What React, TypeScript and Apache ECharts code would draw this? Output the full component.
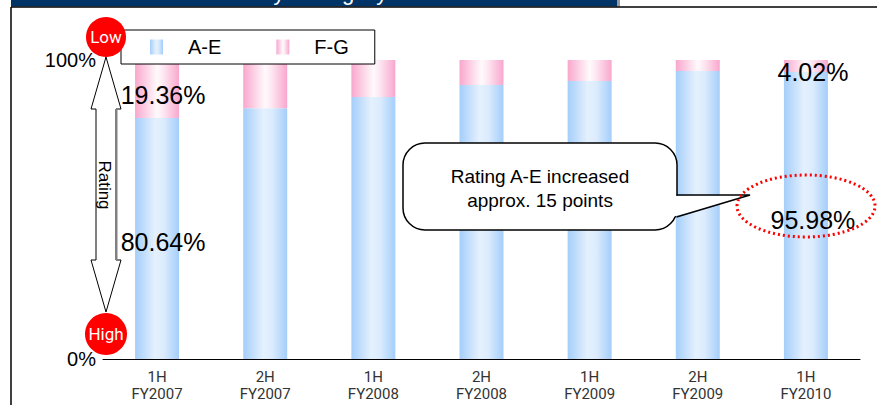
import React, { useEffect, useRef } from "react";
import * as echarts from "echarts";

// Half-year periods on the category axis
const categories = [
  "1H\nFY2007",
  "2H\nFY2007",
  "1H\nFY2008",
  "2H\nFY2008",
  "1H\nFY2009",
  "2H\nFY2009",
  "1H\nFY2010",
];

// Share of borrowers by rating band (%)
const ratingAE = [80.64, 83.9, 87.6, 91.6, 93.0, 96.3, 95.98];
const ratingFG = [19.36, 16.1, 12.4, 8.4, 7.0, 3.7, 4.02];

// Periods whose values are printed on the bars
const labelledPeriods = [0, 6];

const yMin = 0;
const yMax = 100;

const SANS = "'Liberation Sans', Arial, Helvetica, sans-serif";
const NARROW = "'Liberation Sans Narrow', 'Arial Narrow', Roboto, sans-serif";

const blueFill = new echarts.graphic.LinearGradient(0, 0, 1, 0, [
  { offset: 0, color: "#a4cefa" },
  { offset: 0.45, color: "#e4f0fd" },
  { offset: 0.65, color: "#dcecfd" },
  { offset: 1, color: "#a4cefa" },
]);
const pinkFill = new echarts.graphic.LinearGradient(0, 0, 1, 0, [
  { offset: 0, color: "#f9a7cd" },
  { offset: 0.5, color: "#fffafc" },
  { offset: 0.65, color: "#fde6f1" },
  { offset: 1, color: "#f9a7cd" },
]);

const valueLabel = (offset: number[]) => ({
  show: true,
  position: "inside",
  offset,
  formatter: (p: any) => `${Number(p.value).toFixed(2)}%`,
  color: "#000",
  fontFamily: SANS,
  fontSize: 25,
});

const seriesData = (values: number[], offsets: Record<number, number[]>) =>
  values.map((v, i) =>
    labelledPeriods.includes(i)
      ? { value: v, label: valueLabel(offsets[i]) }
      : { value: v }
  );

export default function App() {
  const ref = useRef<HTMLDivElement>(null);

  useEffect(() => {
    if (!ref.current) return;
    const chart = echarts.init(ref.current, undefined, { renderer: "svg" });

    const overlay: any[] = [
      // header band
      { type: "rect", shape: { x: 11, y: 0, width: 607, height: 6.5 }, style: { fill: "#003366" } },
      {
        type: "text",
        x: 312,
        y: 3,
        style: {
          text: "Debt by Rating Cycle",
          align: "center",
          verticalAlign: "bottom",
          fill: "#ffffff",
          font: `22px ${SANS}`,
        },
      },
      { type: "rect", shape: { x: 617, y: 0, width: 3, height: 6.5 }, style: { fill: "#9a9a9a" } },
      { type: "line", shape: { x1: 11, y1: 7, x2: 877, y2: 7 }, style: { stroke: "#000", lineWidth: 1.5 } },
      { type: "line", shape: { x1: 11, y1: 7, x2: 11, y2: 405 }, style: { stroke: "#000", lineWidth: 1.5 } },

      // double arrow: Low (top) to High (bottom)
      {
        type: "polygon",
        shape: {
          points: [
            [106, 57], [121, 109], [116, 109], [116, 260], [121, 260],
            [106, 312], [91, 260], [96, 260], [96, 109], [91, 109],
          ],
        },
        style: { fill: "#fff", stroke: "#000", lineWidth: 1 },
      },
      { type: "line", shape: { x1: 116.5, y1: 109, x2: 116.5, y2: 260 }, style: { stroke: "#808080", lineWidth: 2 } },
      {
        type: "text",
        x: 104,
        y: 185,
        rotation: -Math.PI / 2,
        style: {
          text: "Rating",
          align: "center",
          verticalAlign: "middle",
          fill: "#000",
          font: `17px ${SANS}`,
        },
      },
      { type: "circle", shape: { cx: 106, cy: 37, r: 20 }, style: { fill: "#ff0000" } },
      {
        type: "text",
        x: 106,
        y: 37,
        style: { text: "Low", align: "center", verticalAlign: "middle", fill: "#fff", font: `17px ${NARROW}` },
      },
      { type: "circle", shape: { cx: 106, cy: 334, r: 21 }, style: { fill: "#ff0000" } },
      {
        type: "text",
        x: 106,
        y: 334,
        style: { text: "High", align: "center", verticalAlign: "middle", fill: "#fff", font: `17px ${NARROW}` },
      },

      // callout bubble
      {
        type: "rect",
        shape: { x: 403, y: 143, width: 274, height: 87, r: 22 },
        style: { fill: "#fff", stroke: "#000", lineWidth: 1.5 },
      },
      {
        type: "polygon",
        shape: { points: [[674, 195.8], [750, 195.8], [674, 216.5]] },
        style: { fill: "#fff" },
      },
      {
        type: "polyline",
        shape: { points: [[676.5, 195], [750, 195], [676.5, 217]] },
        style: { stroke: "#000", lineWidth: 1.5, fill: null },
      },
      {
        type: "text",
        x: 540,
        y: 188,
        style: {
          text: "Rating A-E increased\napprox. 15 points",
          align: "center",
          verticalAlign: "middle",
          fill: "#000",
          font: `19px ${SANS}`,
          lineHeight: 24,
        },
      },
      {
        type: "ellipse",
        shape: { cx: 806, cy: 206, rx: 69, ry: 31 },
        style: { fill: null, stroke: "#ff0000", lineWidth: 3, lineDash: [2, 3] },
      },
    ].map((g) => ({ ...g, z: 100 }));

    chart.setOption({
      animation: false,
      backgroundColor: "#ffffff",
      grid: { left: 103, right: 17, top: 60, bottom: 46, containLabel: false },
      legend: {
        left: 121,
        top: 30,
        padding: [7, 26, 7, 29],
        itemWidth: 13,
        itemHeight: 15,
        itemGap: 55,
        icon: "rect",
        borderColor: "#000",
        borderWidth: 1,
        backgroundColor: "#fff",
        z: 10,
        textStyle: { fontFamily: SANS, fontSize: 20, color: "#000", padding: [0, 0, 0, 20] },
        data: ["A-E", "F-G"],
      },
      xAxis: {
        type: "category",
        data: categories,
        axisLine: { lineStyle: { color: "#000", width: 1 } },
        axisTick: { inside: true, length: 6, lineStyle: { color: "#000" } },
        axisLabel: {
          color: "#333",
          fontFamily: NARROW,
          fontSize: 15,
          lineHeight: 17,
          margin: 9,
        },
      },
      yAxis: {
        type: "value",
        min: yMin,
        max: yMax,
        interval: 100,
        axisLine: { show: false },
        axisTick: { show: false },
        splitLine: { show: false },
        axisLabel: {
          formatter: (v: number) => `${v}%`,
          color: "#000",
          fontFamily: SANS,
          fontSize: 20,
          margin: 7,
          padding: [7, 0, 0, 0],
        },
      },
      series: [
        {
          name: "A-E",
          type: "bar",
          stack: "rating",
          barWidth: 44,
          itemStyle: { color: blueFill },
          data: seriesData(ratingAE, { 0: [6, 4], 6: [7, 4] }),
        },
        {
          name: "F-G",
          type: "bar",
          stack: "rating",
          barWidth: 44,
          itemStyle: { color: pinkFill },
          data: seriesData(ratingFG, { 0: [6, 6], 6: [7, 6] }),
        },
      ],
      graphic: { elements: overlay },
    });

    return () => chart.dispose();
  }, []);

  return (
    <div
      ref={ref}
      style={{ position: "fixed", left: 0, top: 0, width: 877, height: 405, background: "#fff" }}
    />
  );
}
